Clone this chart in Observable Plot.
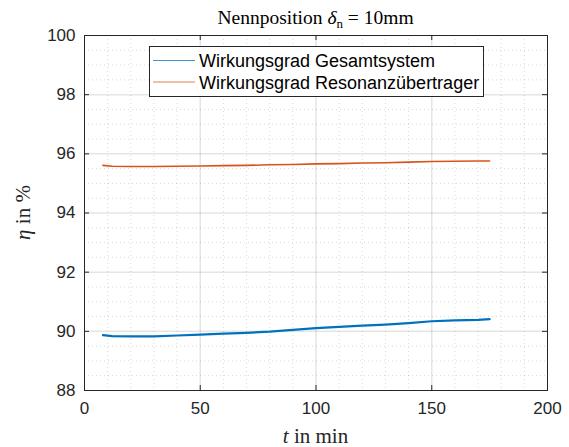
<!DOCTYPE html>
<html>
<head>
<meta charset="utf-8">
<script src="https://cdn.jsdelivr.net/npm/d3@7"></script>
<script src="https://cdn.jsdelivr.net/npm/@observablehq/plot@0.6"></script>
<style>
  html, body { margin: 0; padding: 0; background: #fff; }
  #chart { position: relative; width: 569px; height: 447px; }
</style>
</head>
<body>
<div id="chart"></div>
<script>
// ---- data ----
const tMin = [8, 12, 20, 30, 40, 50, 60, 70, 80, 90, 100, 110, 120, 130, 140, 150, 160, 170, 175];
const etaGesamt = [89.87, 89.84, 89.83, 89.83, 89.86, 89.89, 89.92, 89.95, 89.99, 90.05, 90.11, 90.15, 90.19, 90.23, 90.28, 90.34, 90.37, 90.39, 90.41];
const etaResonanz = [95.61, 95.58, 95.57, 95.57, 95.58, 95.59, 95.60, 95.61, 95.63, 95.64, 95.66, 95.67, 95.69, 95.70, 95.72, 95.74, 95.75, 95.76, 95.76];
const seriesNames = ["Wirkungsgrad Gesamtsystem", "Wirkungsgrad Resonanzübertrager"];
const seriesColors = ["#0072BD", "#D95319"];
const xTicks = [0, 50, 100, 150, 200];
const yTicks = [88, 90, 92, 94, 96, 98, 100];
const xMinor = [10, 20, 30, 40, 60, 70, 80, 90, 110, 120, 130, 140, 160, 170, 180, 190];
const yMinor = [88.5, 89, 89.5, 90.5, 91, 91.5, 92.5, 93, 93.5, 94.5, 95, 95.5, 96.5, 97, 97.5, 98.5, 99, 99.5];

const W = 569, H = 447;
const mT = 35, mR = 22, mB = 57, mL = 84;
const pw = W - mL - mR, ph = H - mT - mB;
const ink = "#262626";
const sans = "'Liberation Sans', Arial, Helvetica, sans-serif";
const serif = "'Liberation Serif', 'DejaVu Serif', serif";

const rows = [];
tMin.forEach((t, i) => {
  rows.push({t, eta: etaGesamt[i], s: seriesNames[0]});
  rows.push({t, eta: etaResonanz[i], s: seriesNames[1]});
});

const plot = Plot.plot({
  width: W, height: H,
  marginTop: mT, marginRight: mR, marginBottom: mB, marginLeft: mL,
  style: {fontFamily: sans, fontSize: "17px", color: ink, background: "#fff"},
  x: {domain: [0, 200]},
  y: {domain: [88, 100]},
  color: {domain: seriesNames, range: seriesColors},
  marks: [
    Plot.gridX(xMinor, {stroke: ink, strokeOpacity: 0.18, strokeDasharray: "1,3"}),
    Plot.gridY(yMinor, {stroke: ink, strokeOpacity: 0.18, strokeDasharray: "1,3"}),
    Plot.gridX(xTicks.slice(1, -1), {stroke: ink, strokeOpacity: 0.12, strokeWidth: 1.5}),
    Plot.gridY(yTicks.slice(1, -1), {stroke: ink, strokeOpacity: 0.12, strokeWidth: 1.5}),
    Plot.line(rows.filter(d => d.s === seriesNames[0]), {x: "t", y: "eta", stroke: "s", strokeWidth: 2.2}),
    Plot.line(rows.filter(d => d.s === seriesNames[1]), {x: "t", y: "eta", stroke: "s", strokeWidth: 1.6}),
    Plot.frame({stroke: ink, strokeWidth: 1}),
    Plot.ruleX(xTicks, {stroke: ink, insetTop: ph - 5}),
    Plot.ruleX(xTicks, {stroke: ink, insetBottom: ph - 5}),
    Plot.ruleY(yTicks, {stroke: ink, insetRight: pw - 5}),
    Plot.ruleY(yTicks, {stroke: ink, insetLeft: pw - 5}),
    Plot.axisX({ticks: xTicks, tickSize: 0, tickPadding: 11, fontSize: 17, label: null}),
    Plot.axisY({ticks: yTicks, tickSize: 0, tickPadding: 9, fontSize: 17, label: null})
  ]
});
document.getElementById("chart").appendChild(plot);

const svg = d3.select(plot);

// Title
const title = svg.append("text")
  .attr("x", mL + pw / 2).attr("y", 24)
  .attr("text-anchor", "middle")
  .attr("font-family", serif).attr("font-size", 19.5).attr("fill", "#000");
title.append("tspan").text("Nennposition ");
title.append("tspan").attr("font-style", "italic").text("δ");
title.append("tspan").attr("font-size", 13).attr("dy", 4).text("n");
title.append("tspan").attr("dy", -4).text(" = 10mm");

// X label
const xl = svg.append("text")
  .attr("x", mL + pw / 2).attr("y", 443)
  .attr("text-anchor", "middle")
  .attr("font-family", serif).attr("font-size", 21).attr("fill", ink);
xl.append("tspan").attr("font-style", "italic").text("t");
xl.append("tspan").text(" in min");

// Y label
const yl = svg.append("text")
  .attr("transform", `translate(30, ${mT + ph / 2}) rotate(-90)`)
  .attr("text-anchor", "middle")
  .attr("font-family", serif).attr("font-size", 21).attr("fill", ink);
yl.append("tspan").attr("font-style", "italic").text("η");
yl.append("tspan").text(" in %");

// Legend
const lg = svg.append("g").attr("transform", "translate(149,46)");
lg.append("rect").attr("x", 0.5).attr("y", 0.5).attr("width", 334).attr("height", 50)
  .attr("fill", "#fff").attr("stroke", ink).attr("stroke-width", 1);
seriesNames.forEach((name, i) => {
  const y = 14.5 + i * 21.5;
  lg.append("line").attr("x1", 4).attr("x2", 46).attr("y1", y).attr("y2", y)
    .attr("stroke", seriesColors[i]).attr("stroke-width", 1.2).attr("stroke-opacity", 0.75);
  lg.append("text").attr("x", 50).attr("y", y + 6.5)
    .attr("text-anchor", "start")
    .attr("font-family", sans).attr("font-size", 18)
    .attr("fill", "#000").text(name);
});
</script>
</body>
</html>
